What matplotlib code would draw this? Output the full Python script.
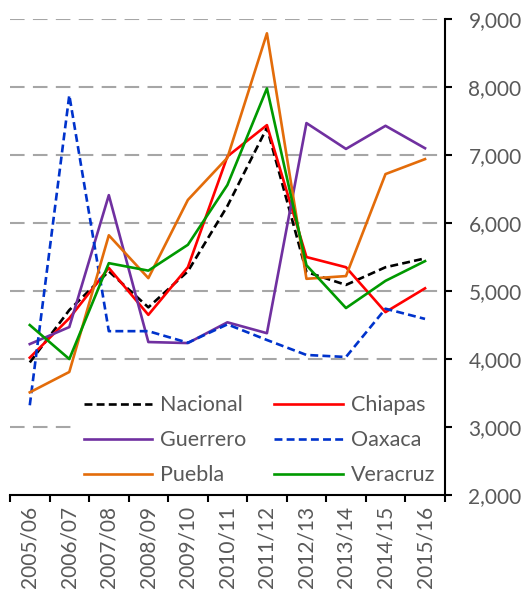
import matplotlib.pyplot as plt
import numpy as np

plt.rcParams['font.family'] = ['Lato', 'DejaVu Sans']

ciclos = ["2005/06", "2006/07", "2007/08", "2008/09", "2009/10", "2010/11",
          "2011/12", "2012/13", "2013/14", "2014/15", "2015/16"]
nacional = [3950, 4720, 5290, 4760, 5290, 6250, 7400, 5280, 5090, 5350, 5480]
chiapas = [4020, 4600, 5340, 4650, 5350, 6980, 7440, 5500, 5350, 4690, 5040]
guerrero = [4220, 4470, 6410, 4250, 4235, 4540, 4380, 7470, 7090, 7430, 7100]
oaxaca = [3320, 7880, 4410, 4410, 4240, 4510, 4280, 4060, 4030, 4740, 4590]
puebla = [3510, 3810, 5820, 5190, 6340, 6960, 8790, 5180, 5220, 6720, 6940]
veracruz = [4500, 4000, 5410, 5300, 5680, 6560, 7980, 5380, 4750, 5150, 5440]

gris = "#595959"
x = np.arange(len(ciclos))

fig = plt.figure(figsize=(5.27, 5.95), dpi=100)
ax = fig.add_axes([0.019, 0.168, 0.825, 0.800])

lw = 1.9
l_nac, = ax.plot(x, nacional, color="black", lw=lw, ls=(0, (3, 1.6)), label="Nacional")
l_chi, = ax.plot(x, chiapas, color="#FF0000", lw=lw, label="Chiapas")
l_gue, = ax.plot(x, guerrero, color="#7030A0", lw=lw, label="Guerrero")
l_oax, = ax.plot(x, oaxaca, color="#0033CC", lw=lw, ls=(0, (3, 1.6)), label="Oaxaca")
l_pue, = ax.plot(x, puebla, color="#E36C0A", lw=lw, label="Puebla")
l_ver, = ax.plot(x, veracruz, color="#009900", lw=lw, label="Veracruz")

ax.set_xlim(-0.5, len(ciclos) - 0.5)
ax.set_ylim(2000, 9000)

# rejilla discontinua
for v in range(3000, 9001, 1000):
    ax.axhline(v, color="#A6A6A6", lw=1.5, ls=(0, (7, 4)), zorder=0)

ax.yaxis.tick_right()
ax.set_yticks(range(2000, 9001, 1000))
ax.set_yticklabels([f"{v:,}" for v in range(2000, 9001, 1000)])
ax.set_xticks(x)
ax.set_xticklabels(ciclos, rotation=90)
ax.set_xticks(np.arange(-0.5, len(ciclos)), minor=True)
ax.tick_params(axis="x", which="major", length=0, pad=8, labelsize=15, labelcolor=gris)
ax.tick_params(axis="x", which="minor", length=5, width=1.5, direction="out")
ax.tick_params(axis="y", length=5, width=1.5, direction="out", pad=12,
               labelsize=15, labelcolor=gris)

for s in ["top", "left"]:
    ax.spines[s].set_visible(False)
ax.spines["right"].set_linewidth(1.5)
ax.spines["bottom"].set_linewidth(1.5)

# orden por filas como en el original
handles = [l_nac, l_gue, l_pue, l_chi, l_oax, l_ver]
leg = ax.legend(handles, [h.get_label() for h in handles], ncol=2,
                loc="lower right", bbox_to_anchor=(1.0, 0.0),
                fontsize=15.5, frameon=True, fancybox=False, edgecolor="white",
                framealpha=1, handlelength=3.2, handletextpad=0.35,
                columnspacing=1.3, labelspacing=0.7, borderpad=0.4,
                borderaxespad=0.05)
for t in leg.get_texts():
    t.set_color(gris)
leg.set_zorder(2.2)

fig.savefig("out.png", dpi=100)
